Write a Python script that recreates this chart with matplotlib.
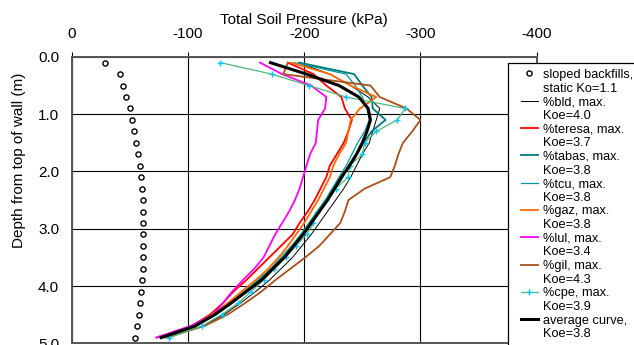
import matplotlib
matplotlib.use("Agg")
import matplotlib.pyplot as plt
from matplotlib.lines import Line2D
from matplotlib.legend_handler import HandlerLine2D

plt.rcParams['font.family'] = ['Liberation Sans', 'DejaVu Sans']
plt.rcParams['axes.unicode_minus'] = False

# depth below top of wall (m), one reading every 0.2 m
depth = [0.1, 0.3, 0.5, 0.7, 0.9, 1.1, 1.3, 1.5, 1.7, 1.9, 2.1, 2.3, 2.5,
         2.7, 2.9, 3.1, 3.3, 3.5, 3.7, 3.9, 4.1, 4.3, 4.5, 4.7, 4.9]

# total soil pressure (kPa), compression negative
static = [-28.6, -41.8, -44.4, -47.0, -49.9, -52.1, -53.8, -55.6, -57.0, -58.5, -59.9, -60.2, -61.1,
          -61.1, -61.6, -61.6, -61.6, -61.6, -61.3, -60.5, -59.9, -59.0, -57.6, -55.9, -54.2]
bld = [-195, -222, -240, -255, -265, -262, -259, -256, -250, -245, -240, -234, -227,
       -220, -213, -206, -198, -190, -180, -170, -158, -145, -131, -113, -83]
teresa = [-186, -208, -219, -232, -235, -241, -238, -234, -228, -222, -219, -214, -209,
          -203, -196, -190, -180, -170, -160, -150, -139, -130, -119, -103, -73]
tabas = [-196, -243, -250, -258, -259, -270, -258, -251, -245, -238, -233, -227, -220,
         -213, -206, -199, -191, -182, -172, -161, -150, -137, -124, -106, -78]
tcu = [-192, -236, -244, -250, -254, -256, -252, -246, -241, -236, -230, -224, -218,
       -211, -204, -197, -189, -180, -171, -160, -148, -136, -122, -105, -77]
gaz = [-189, -222, -240, -262, -248, -240, -238, -236, -230, -225, -222, -217, -212,
       -206, -200, -193, -186, -178, -169, -158, -146, -134, -121, -104, -76]
lul = [-162, -181, -206, -219, -218, -212, -211, -210, -205, -202, -199, -196, -192,
       -187, -181, -175, -170, -165, -157, -147, -138, -130, -122, -102, -73]
gil = [-186, -182, -257, -265, -288, -300, -293, -285, -281, -278, -274, -252, -238,
       -235, -231, -222, -213, -201, -188, -175, -163, -149, -134, -114, -80]
cpe = [-128, -172, -204, -236, -287, -280, -262, -252, -250, -239, -238, -227, -219,
       -211, -208, -202, -193, -184, -174, -165, -154, -143, -129, -112, -84]
avg = [-171, -202, -230, -247, -255, -257, -254, -250, -245, -239, -232, -226, -220,
       -213, -206, -199, -191, -183, -173, -163, -150, -137, -123, -106, -77]

labels = ['sloped backfills,', '%bld, max.', '%teresa, max.', '%tabas, max.', '%tcu, max.',
          '%gaz, max.', '%lul, max.', '%gil, max.', '%cpe, max.', 'average curve,']
koe = ['static Ko=1.1', 'Koe=4.0', 'Koe=3.7', 'Koe=3.8', 'Koe=3.8',
       'Koe=3.8', 'Koe=3.4', 'Koe=4.3', 'Koe=3.9', 'Koe=3.8']

fig = plt.figure(figsize=(6.34, 3.45), dpi=100)
ax = fig.add_axes([0.1131, 0.005, 0.7334, 0.830])

h = []
h.append(ax.plot(static, depth, 'o', mfc='white', mec='black', ms=3.7, mew=1.0)[0])
h.append(ax.plot(bld, depth, color='black', lw=0.7)[0])
h.append(ax.plot(teresa, depth, color='#ff0000', lw=1.3)[0])
h.append(ax.plot(tabas, depth, color='#007b7b', lw=1.3)[0])
h.append(ax.plot(tcu, depth, color='#009c9c', lw=0.9)[0])
h.append(ax.plot(gaz, depth, color='#ff6a00', lw=1.3)[0])
h.append(ax.plot(lul, depth, color='#ff00ff', lw=1.3)[0])
h.append(ax.plot(gil, depth, color='#a8501a', lw=1.3)[0])
h.append(ax.plot(cpe, depth, color='#4cb87a', lw=0.9, marker='+', ms=4.5,
                 mec='#00c8ff', mew=1.0)[0])
h.append(ax.plot(avg, depth, color='black', lw=2.2)[0])

ax.set_xlim(0, -400)
ax.set_ylim(5, 0)
ax.set_xticks([0, -100, -200, -300, -400])
ax.set_yticks([0, 1, 2, 3, 4, 5])
ax.set_yticklabels(['0.0', '1.0', '2.0', '3.0', '4.0', '5.0'])
ax.xaxis.tick_top()
ax.xaxis.set_label_position('top')
ax.tick_params(axis='x', direction='out', length=3.6, width=0.8, pad=8, labelsize=11)
ax.tick_params(axis='y', length=0, pad=9, labelsize=11)
ax.grid(True, color='black', lw=0.8)
for s in ax.spines.values():
    s.set_color('#555555')
    s.set_linewidth(1.4)
ax.set_xlabel('Total Soil Pressure (kPa)', fontsize=11, labelpad=2)
ax.set_ylabel('Depth from top of wall (m)', fontsize=11)
ax.yaxis.set_label_coords(-0.098, 0.64)

# two legend rows per series: name with its line, then the Koe value
blank = Line2D([], [], linestyle='none')
handles, texts = [], []
for hd, a, b in zip(h, labels, koe):
    handles += [hd, blank]
    texts += [a, b]
leg = fig.legend(handles, texts, loc='upper left', bbox_to_anchor=(0.802, 0.817),
                 fontsize=9.2, labelspacing=0.13, handlelength=1.89, handletextpad=0.39,
                 borderpad=0.45, borderaxespad=0, fancybox=False, framealpha=1,
                 edgecolor='black', handler_map={Line2D: HandlerLine2D(xpad=0.5)})
leg.get_frame().set_linewidth(0.9)

fig.savefig('out.png', dpi=100)
